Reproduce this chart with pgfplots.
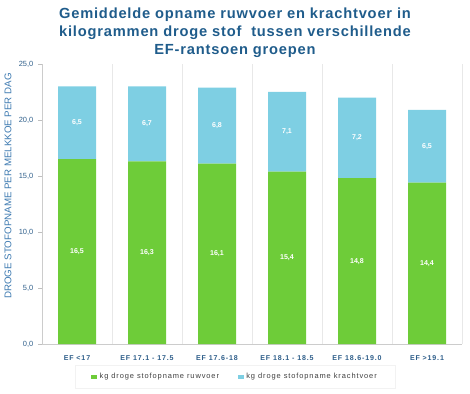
\documentclass[border=0pt]{standalone}
\usepackage{fontspec}
\setmainfont{Liberation Sans}
\newfontfamily\spaced[LetterSpace=12]{Liberation Sans}
\newfontfamily\titlefont[LetterSpace=5.5]{Liberation Sans}
\usepackage{pgfplots}
\pgfplotsset{compat=1.18}
\definecolor{ruw}{HTML}{6ECC39}
\definecolor{kracht}{HTML}{7ECFE3}
\definecolor{titleblue}{HTML}{1F5C8B}
\definecolor{labblue}{HTML}{3C79B0}
\definecolor{tickblue}{HTML}{2E5E8A}
\definecolor{gridgray}{HTML}{E8E8E8}
\begin{document}
\begin{tikzpicture}[x=0.75pt,y=0.75pt]
\path[use as bounding box] (0,0) rectangle (470,393);
\node[font=\titlefont\fontsize{11}{13.5}\selectfont\bfseries, text=titleblue, align=center] at (235,360)
  {Gemiddelde opname ruwvoer en krachtvoer in\\kilogrammen droge stof \ tussen verschillende\\EF-rantsoen groepen};
\node[font=\fontsize{7.3}{8}\selectfont, text=labblue, rotate=90] at (8,207)
  {DROGE STOFOPNAME PER MELKKOE PER DAG};
\begin{axis}[
  at={(31.5pt,36.75pt)}, anchor=south west,
  scale only axis, width=315pt, height=210pt,
  xmin=-0.5, xmax=5.5, ymin=0, ymax=25,
  ybar stacked, bar width=28.5pt,
  xtick={0,1,2,3,4,5},
  xticklabels={EF <17, EF 17.1 - 17.5, EF 17.6-18, EF 18.1 - 18.5, EF 18.6-19.0, EF >19.1},
  x tick label style={font=\spaced\fontsize{5.3}{6}\selectfont\bfseries, text=tickblue, yshift=-2pt},
  ytick={0,5,10,15,20,25},
  /pgf/number format/assume math mode=true,
  yticklabel style={font=\fontsize{5.6}{6.5}\selectfont, text=tickblue,
    /pgf/number format/fixed, /pgf/number format/fixed zerofill,
    /pgf/number format/precision=1, /pgf/number format/use comma},
  axis x line*=bottom, axis y line*=left,
  axis line style={draw=gray!40},
  tick align=outside,
  xtick style={draw=none},
  ytick style={draw=gray!50},
  major tick length=3pt,
  minor xtick={0.5,1.5,2.5,3.5,4.5,5.5},
  minor tick length=0pt,
  xminorgrids=true,
  minor grid style={draw=gridgray, line width=0.6pt},
  legend columns=2,
  legend style={at={(0.46,-0.075)}, anchor=north, draw=gray!10,
    font=\spaced\fontsize{5.6}{7}\selectfont, text=black!75,
    inner xsep=12pt, inner ysep=4pt,
    /tikz/every even column/.append style={column sep=12pt}},
  legend image code/.code={\fill[#1] (0pt,-1.8pt) rectangle (4.5pt,1.8pt);},
]
\addplot[fill=ruw, draw=none] coordinates {(0,16.5) (1,16.3) (2,16.1) (3,15.4) (4,14.8) (5,14.4)};
\addplot[fill=kracht, draw=none] coordinates {(0,6.5) (1,6.7) (2,6.8) (3,7.1) (4,7.2) (5,6.5)};
\legend{kg droge stofopname ruwvoer, kg droge stofopname krachtvoer}
\end{axis}
\begin{axis}[
  at={(31.5pt,36.75pt)}, anchor=south west,
  scale only axis, width=315pt, height=210pt,
  xmin=-0.5, xmax=5.5, ymin=0, ymax=25, hide axis,
  nodes near coords, point meta=explicit symbolic,
  every node near coord/.style={font=\fontsize{5.3}{6}\selectfont\bfseries, text=white, anchor=center},
]
\addplot[only marks, mark=none] coordinates {
  (0,8.25)[16,5] (1,8.15)[16,3] (2,8.05)[16,1] (3,7.7)[15,4] (4,7.4)[14,8] (5,7.2)[14,4]};
\addplot[only marks, mark=none] coordinates {
  (0,19.75)[6,5] (1,19.65)[6,7] (2,19.5)[6,8] (3,18.95)[7,1] (4,18.4)[7,2] (5,17.65)[6,5]};
\end{axis}
\end{tikzpicture}
\end{document}
